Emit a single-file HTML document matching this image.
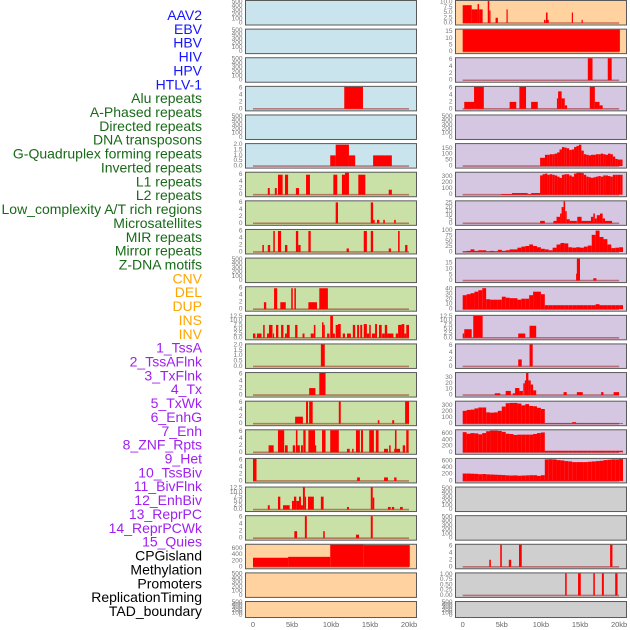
<!DOCTYPE html>
<html><head><meta charset="utf-8"><style>
html,body{margin:0;padding:0;background:#fff;}
svg{display:block;font-family:"Liberation Sans",sans-serif;}
</style></head><body>
<svg id="chart" width="630" height="630" viewBox="0 0 630 630"></svg>
<script>
const trackLabels=["AAV2","EBV","HBV","HIV","HPV","HTLV-1","Alu repeats","A-Phased repeats","Directed repeats","DNA transposons","G-Quadruplex forming repeats","Inverted repeats","L1 repeats","L2 repeats","Low_complexity A/T rich regions","Microsatellites","MIR repeats","Mirror repeats","Z-DNA motifs","CNV","DEL","DUP","INS","INV","1_TssA","2_TssAFlnk","3_TxFlnk","4_Tx","5_TxWk","6_EnhG","7_Enh","8_ZNF_Rpts","9_Het","10_TssBiv","11_BivFlnk","12_EnhBiv","13_ReprPC","14_ReprPCWk","15_Quies","CPGisland","Methylation","Promoters","ReplicationTiming","TAD_boundary"];
const labelGroups=[6,13,5,15,5];
const groupColors=["#1515ff","#186a18","#ffa500","#a020f0","#000000"];
const xTicks=[0,5,10,15,20];
const xTickLabels=["0","5kb","10kb","15kb","20kb"];
const T500=[0,100,200,300,400,500];
const T6=[0,2,4,6];
const T125=[0,2.5,5,7.5,10,12.5];
const T125L=["0.0","2.5","5.0","7.5","10.0","12.5"];
// segment data [startKb, endKb, value]
const segL3=[[11.7,14.1,6.5]];
const segL5=[[9.9,10.6,1],[10.6,12.3,2],[12.3,13.1,1],[15.4,17.8,1]];
const segL6=[[1.9,2.15,2],[2.8,3.05,2],[3.2,3.8,6],[4.1,4.5,6],[5.5,5.9,2],[6.8,7.3,6],[10.3,10.8,6],[11.4,11.8,6],[11.8,12.3,7],[13.5,14.4,6],[17.4,17.8,1.5]];
const segL7=[[10.6,10.9,6],[15.1,15.4,6],[15.4,15.6,1],[15.9,16.2,1],[16.7,16.9,1],[18.1,18.3,1]];
const segL8=[[1.2,1.4,2],[1.9,2.2,2],[2.6,2.8,6],[3.2,3.6,6],[4.1,4.4,2],[5.5,5.8,6],[5.8,6.1,2],[7.1,7.4,6],[12.0,12.3,1],[14.2,14.6,6],[15.1,15.4,6],[17.4,17.7,1],[18.6,18.8,6],[19.5,19.8,2]];
const segL10=[[1.4,1.7,2],[2.7,3.1,6],[3.5,4.2,2],[4.9,5.1,6],[5.3,5.5,6],[7.1,8.2,2],[8.5,9.6,6]];
const segL11=[[0,0.3,2.5],[0.5,1.1,2.5],[1.3,1.5,7.5],[1.8,2.05,2.5],[2.05,2.5,7.5],[2.55,2.7,2.5],[2.95,3.25,7.5],[3.6,3.9,7.5],[4.1,4.35,2.5],[4.35,4.7,7.5],[5.4,5.7,7.5],[6.35,6.6,2.5],[7.4,7.8,2.5],[7.8,8.0,7.5],[8.85,9.05,9],[9.05,9.2,7.5],[9.5,9.8,2.5],[9.9,10.25,13],[10.25,10.5,2.5],[10.6,10.9,7.5],[10.9,11.25,8],[11.5,11.8,2.5],[12.05,12.55,2.5],[12.8,13.1,7.5],[13.35,13.6,7.5],[13.75,14.0,7.5],[14.2,14.6,8],[14.6,14.9,2.5],[14.9,15.1,7.5],[15.25,15.65,2.5],[15.65,15.9,8],[16.15,16.5,7.5],[16.55,16.9,2.5],[16.9,17.2,7.5],[17.2,18.0,2.5],[18.3,18.6,2.5],[18.6,19.05,7.5],[19.05,19.4,8],[19.4,19.65,2.5],[19.65,20.0,7.5]];
const segL12=[[8.7,9.2,2.1]];
const segL13=[[7.2,8.0,2],[8.5,9.3,6.5]];
const segL14=[[5.4,6.4,2],[6.8,7.05,6.5],[7.2,7.65,6.5],[11.0,11.25,6.5],[16.0,16.2,1],[17.85,18.1,1],[19.5,20,6.5]];
const segL15=[[2.0,2.65,2],[3.2,4.0,6.5],[4.1,4.45,2],[5.1,5.4,2],[5.5,5.7,6.5],[5.7,6.0,2],[6.15,6.4,2],[6.45,6.75,6.5],[7.1,7.95,6.5],[7.95,8.1,2],[8.85,9.3,6.5],[9.9,11.0,6.5],[12.05,12.4,1],[12.7,12.9,1],[13.2,13.7,6.5],[13.85,14.1,6.5],[14.9,15.5,6.5],[15.75,16.1,6.5],[16.8,17.3,1],[17.45,17.65,2],[18.1,18.85,1],[18.2,18.4,6.5],[19.2,19.5,2],[19.65,19.95,6.5]];
const segL16=[[0,0.45,6.5],[13.35,13.7,1],[16.8,17.3,1],[18.1,18.4,1]];
const segL17=[[1.9,2.15,2.5],[3.2,3.5,7.5],[3.85,4.7,2.5],[5.0,5.25,5],[5.25,5.55,7.5],[5.55,5.9,5],[5.9,6.15,7.5],[6.15,6.4,2.5],[6.4,6.65,13],[6.65,6.8,7.5],[7.05,7.8,7.5],[8.7,9.05,7.5],[12.05,12.3,1.5],[15.1,15.35,13],[15.35,15.55,7],[17.3,17.65,1.5],[17.8,18.1,1.5],[18.85,19.2,1.5]];
const segL18=[[5.3,5.65,2],[6.65,6.9,6.5],[9.0,9.2,2],[13.2,13.6,1],[15.1,15.35,6.5]];
const segL19=[[0,4.5,300],[4.5,9.9,330],[9.9,14.2,740],[14.2,20.1,720]];
const segR0=[[0,1.15,8.5],[1.15,1.9,6.5],[1.9,2.1,9],[2.1,2.55,6.5],[3.2,3.4,11],[3.4,3.5,6],[4.2,4.5,2.5],[5.6,5.75,6.5],[10.4,10.6,1.5],[10.65,10.85,5],[10.85,11.0,1.5],[13.95,14.1,5],[15.2,15.35,1.5]];
const segR1=[[0,20.1,17]];
const segR2=[[16.0,16.6,6.5],[18.55,19.05,6.5]];
const segR3=[[0.2,1.45,2],[1.45,2.7,6.5],[6.0,6.85,2],[7.25,8.1,6.5],[8.75,9.6,2],[12.05,12.2,3],[12.2,12.65,5],[12.65,13.05,3],[13.05,13.35,1],[16.25,16.9,6.5],[16.9,17.5,2],[17.5,17.9,1]];
const segR6=[[4.9,6.3,12],[6.3,8.3,28],[8.3,8.75,12],[8.75,9.9,28]];
const segR7=[[9.9,10.5,3],[11.6,12.0,3],[12.0,12.45,8],[12.45,12.65,12],[12.65,12.9,20],[12.9,13.1,30],[13.1,13.3,15],[13.3,13.7,5],[13.7,14.6,3],[14.65,15.2,8],[15.2,16.4,3],[16.4,16.7,8],[16.7,16.9,12],[16.9,17.15,6],[17.15,17.55,10],[17.55,17.9,12],[17.9,18.2,6],[18.2,19.1,3]];
const segR9=[[14.5,14.6,6],[14.6,15.0,19],[16.7,17.1,2]];
const segR11=[[0,0.2,2.5],[0.2,1.15,5],[1.35,2.55,13],[7.1,8.0,2.5],[8.55,9.4,7]];
const segR12=[[7.1,7.55,2],[8.55,8.95,6.5]];
const segR13=[[4.1,4.8,3],[5.5,6.15,7],[6.4,6.7,3],[6.7,7.25,12],[7.25,7.7,7],[7.75,7.95,20],[7.95,8.1,25],[8.1,8.4,38],[8.4,8.7,25],[8.7,9.0,18],[9.0,9.4,8],[12.9,13.3,5],[14.6,15.35,5],[17.7,18.0,5],[19.3,20,5]];
const segR19=[[3.4,3.6,2],[4.8,5.0,6.5],[5.9,6.2,2],[7.2,7.55,6.5],[18.85,19.15,6.5]];
const segR20=[[13.1,13.3,1.05],[14.75,15.1,1.05],[16.7,16.9,1.05],[17.8,18.05,1.05],[19.5,19.8,1.05]];
// profile data (start kb, step kb, values)
const profR5Vals=[70,70,95,95,100,100,105,115,140,160,155,150,135,140,160,170,180,130,100,95,90,95,95,100,100,105,100,95,105,100,80,60,55,55];
const profR6Vals=[320,340,350,330,340,330,320,300,280,330,340,340,320,300,350,370,370,360,330,300,290,280,290,300,310,300,320,320,310,300,330,330,330,330];
const profR8Vals=[3,5,12,5,8,8,3,5,3,10,5,8,12,12,20,25,28,35,28,22,15,12,8,20,35,42,40,22,20,22,20,25,30,80,100,70,60,35,18,20,22];
const profR10Vals=[28,30,32,35,38,42,20,19,19,19,25,23,22,22,19,21,21,28,35,35,30,8,8,8,8,8,8,8,8,8,8,8,8,8,10,8,8,8,8,8,8];
const profR14Vals=[210,225,230,250,265,265,185,180,185,210,280,335,340,340,330,300,320,290,285,260,240,10,10,10,10,10,10,10,25,10,10,10,10,10,10,10,10,10,10,10,10];
const profR15Vals=[650,600,620,610,580,620,680,700,700,690,660,600,590,560,570,570,570,570,590,620,640,50,50,50,50,50,50,50,50,50,50,50,50,50,50,50,50,50,50,50,50];
const profR16Vals=[220,220,215,210,200,205,195,190,185,180,175,165,160,165,155,160,165,170,170,150,170,640,645,640,620,610,590,580,560,560,560,560,570,580,590,600,620,630,640,640,650];

function prof(start,step,vals){const out=[];vals.forEach((v,i)=>out.push([start+i*step,start+(i+1)*step,v]));return out;}

const BL="#c9e4ec",GR="#c9e1a6",OR="#ffd29f",PU="#d5c6e1",GY="#cfcfcf";
const E={ymax:520,ticks:T500,data:null};
function P(bg,ymax,ticks,data,labels){return {bg:bg,ymax:ymax,ticks:ticks,labels:labels||ticks.map(String),data:data};}
function EP(bg){return P(bg,520,T500,null);}
const leftPanels=[EP(BL),EP(BL),EP(BL),P(BL,6.3,T6,segL3),EP(BL),P(BL,2.05,[0,0.5,1,1.5,2],segL5,["0.0","0.5","1.0","1.5","2.0"]),
P(GR,6.6,T6,segL6),P(GR,6.3,T6,segL7),P(GR,6.3,T6,segL8),EP(GR),P(GR,6.3,T6,segL10),P(GR,12.8,T125,segL11,T125L),P(GR,2.05,[0,0.5,1,1.5,2],segL12,["0.0","0.5","1.0","1.5","2.0"]),
P(GR,6.3,T6,segL13),P(GR,6.3,T6,segL14),P(GR,6.3,T6,segL15),P(GR,6.3,T6,segL16),P(GR,12.8,T125,segL17,T125L),P(GR,6.3,T6,segL18),
P(OR,730,[0,200,400,600],segL19),EP(OR),EP(OR)];
const rightPanels=[P(OR,10.5,[0,2.5,5,7.5,10],segR0,["0.0","2.5","5.0","7.5","10.0"]),P(OR,16.5,[0,5,10,15],segR1),P(PU,6.3,T6,segR2),P(PU,6.3,T6,segR3),EP(PU),
P(PU,185,[0,50,100,150],prof(9.9,0.31,profR5Vals)),P(PU,365,[0,100,200,300],segR6.concat(prof(9.9,0.31,profR6Vals))),P(PU,27,[0,5,10,15,20,25],segR7),
P(PU,103,[0,25,50,75,100],prof(0,0.5,profR8Vals)),P(PU,19,[0,5,10,15],segR9),P(PU,44,[0,10,20,30,40],prof(0,0.5,profR10Vals)),P(PU,12.8,T125,segR11,T125L),
P(PU,6.3,T6,segR12),P(PU,37.5,[0,10,20,30],segR13),P(PU,360,[0,100,200,300],prof(0,0.5,profR14Vals)),P(PU,710,[0,200,400,600],prof(0,0.5,profR15Vals)),
P(PU,655,[0,200,400,600],prof(0,0.5,profR16Vals)),EP(GY),EP(GY),P(GY,6.3,T6,segR19),P(GY,1.05,[0,0.25,0.5,0.75,1],segR20,["0.00","0.25","0.50","0.75","1.00"]),EP(GY)];

const svg=document.getElementById('chart');
const NS="http://www.w3.org/2000/svg";
function mk(tag,attrs,parent){const e=document.createElementNS(NS,tag);for(const k in attrs)e.setAttribute(k,attrs[k]);(parent||svg).appendChild(e);return e;}

// labels
let idx=0;
labelGroups.forEach((n,g)=>{for(let j=0;j<n;j++){const t=mk('text',{x:202,y:15+13.86*idx,'text-anchor':'end','dominant-baseline':'central','font-size':'14',fill:groupColors[g]});
t.textContent=trackLabels[idx];


idx++;}});

const cols=[{x0:245,x1:416,zero:253,scale:7.8,tickX:242.5,panels:leftPanels,name:'left'},{x0:455,x1:626,zero:462.7,scale:7.82,tickX:452.5,panels:rightPanels,name:'right'}];
let clipId=0;
cols.forEach(c=>{
 c.panels.forEach((p,r)=>{
  const top=28.62*r, h=(r===21)?16:24.5, bot=top+h;
  const g=mk('g',{});
  
  
  mk('rect',{x:c.x0+0.5,y:top+0.5,width:c.x1-c.x0,height:h,fill:p.bg,stroke:'#5a5a5a','stroke-width':1},g);
  const y=v=>bot-1.5-v/p.ymax*(h-2.5);
  const cid='cp'+(clipId++);
  const cp=mk('clipPath',{id:cid},g);mk('rect',{x:c.x0+1,y:top+1,width:c.x1-c.x0-1,height:h-1},cp);
  const dg=mk('g',{'clip-path':'url(#'+cid+')'},g);
  if(p.data){
   const bl=mk('line',{x1:c.zero,x2:c.zero+20*c.scale,y1:y(0),y2:y(0),stroke:'rgba(150,0,0,0.45)','stroke-width':1.6},dg);
   
   
   p.data.forEach(d=>{
    const xa=c.zero+d[0]*c.scale, xb=c.zero+d[1]*c.scale, ya=y(d[2]);
    const b=mk('rect',{x:xa,y:ya,width:Math.max(1.2,xb-xa),height:Math.max(0,y(0)-ya),fill:'#ff0000'},dg);
    
    
   });
  }
  p.ticks.forEach((tv,i)=>{
   const t=mk('text',{x:c.tickX,y:y(tv),'text-anchor':'end','dominant-baseline':'central','font-size':'6.5',fill:'#777'},g);
   t.textContent=p.labels[i];
   
   
  });
 });
 xTicks.forEach((v,i)=>{
  const t=mk('text',{x:c.zero+v*c.scale,y:627,'text-anchor':'middle','font-size':'7.5',fill:'#666'});
  t.textContent=xTickLabels[i];
  
  
 });
});
</script>
</body></html>
